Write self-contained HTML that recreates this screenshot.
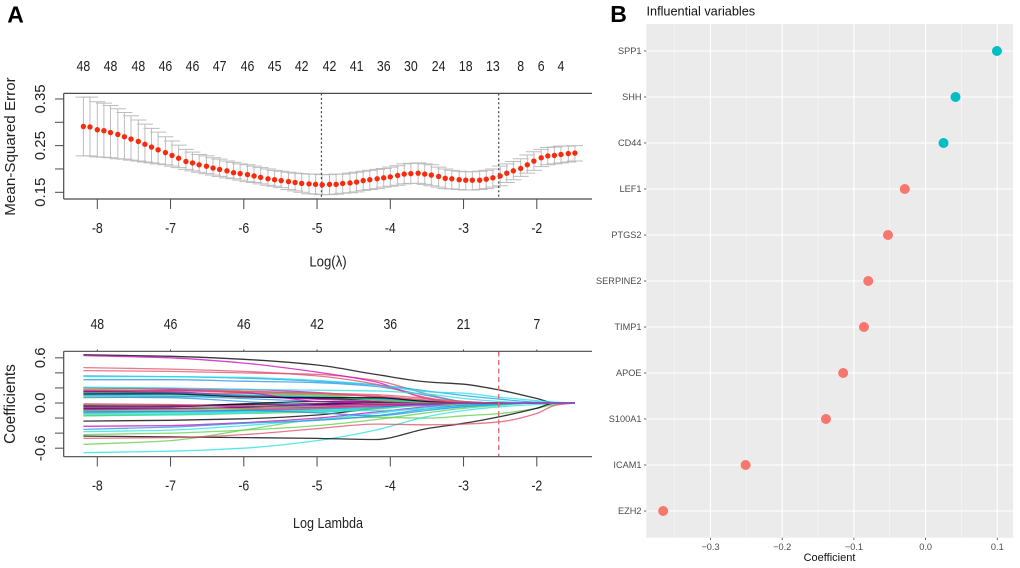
<!DOCTYPE html>
<html lang="en">
<head>
<meta charset="utf-8">
<title>LASSO regression and influential variables</title>
<style>
html,body{margin:0;padding:0;background:#fff;width:1020px;height:568px;overflow:hidden}
svg{display:block;font-family:"Liberation Sans",Arial,sans-serif;filter:blur(0.3px)}
</style>
</head>
<body>
<svg id="fig" xmlns="http://www.w3.org/2000/svg" width="1020" height="568" viewBox="0 0 1020 568"></svg>
<script>
/* Panel A top: cross-validation curve */
const mseLogLambda = [-8.19,-8.10,-8.00,-7.91,-7.82,-7.72,-7.63,-7.54,-7.44,-7.35,-7.26,-7.17,-7.07,-6.98,-6.89,-6.79,-6.70,-6.61,-6.51,-6.42,-6.33,-6.23,-6.14,-6.05,-5.95,-5.86,-5.77,-5.67,-5.58,-5.49,-5.39,-5.30,-5.21,-5.11,-5.02,-4.93,-4.83,-4.74,-4.65,-4.55,-4.46,-4.37,-4.28,-4.18,-4.09,-4.00,-3.90,-3.81,-3.72,-3.62,-3.53,-3.44,-3.34,-3.25,-3.16,-3.06,-2.97,-2.88,-2.78,-2.69,-2.60,-2.50,-2.41,-2.32,-2.22,-2.13,-2.04,-1.94,-1.85,-1.76,-1.67,-1.57,-1.48];
const mseMean = [.291,.290,.284,.282,.278,.274,.269,.264,.259,.253,.247,.241,.235,.229,.223,.216,.213,.209,.206,.202,.199,.196,.192,.190,.188,.185,.182,.179,.177,.175,.173,.171,.169,.168,.167,.166,.167,.167,.169,.170,.172,.175,.177,.179,.181,.183,.186,.189,.190,.191,.189,.187,.184,.180,.179,.177,.176,.176,.176,.178,.181,.185,.191,.196,.201,.209,.217,.224,.228,.229,.231,.233,.234];
const mseUpper = [.354,.354,.344,.341,.336,.329,.321,.314,.305,.296,.287,.279,.269,.260,.251,.242,.236,.231,.228,.224,.221,.217,.214,.211,.209,.206,.203,.200,.197,.195,.193,.191,.190,.189,.189,.188,.188,.189,.189,.191,.193,.195,.197,.199,.201,.204,.207,.211,.212,.213,.211,.209,.204,.200,.197,.195,.194,.194,.195,.197,.200,.206,.211,.216,.222,.230,.237,.242,.246,.247,.249,.249,.250];
const mseLower = [.228,.228,.226,.225,.224,.222,.221,.219,.217,.215,.213,.211,.209,.206,.203,.199,.196,.193,.190,.187,.184,.181,.179,.176,.173,.171,.168,.165,.163,.160,.156,.153,.150,.147,.146,.145,.145,.146,.148,.149,.151,.154,.156,.158,.161,.163,.165,.168,.169,.169,.167,.164,.161,.158,.157,.156,.155,.155,.156,.158,.161,.164,.171,.177,.184,.191,.197,.205,.209,.211,.213,.215,.217];
const mseTopLambda = [-8.19,-7.82,-7.44,-7.07,-6.70,-6.33,-5.95,-5.58,-5.21,-4.83,-4.46,-4.09,-3.72,-3.34,-2.97,-2.60,-2.22,-1.94,-1.67];
const mseTopLabels = ["48","48","48","46","46","47","46","45","42","42","41","36","30","24","18","13","8","6","4"];
const mseYTicks = [0.15,0.20,0.25,0.30,0.35];
const mseYLabels = ["0.15","","0.25","","0.35"];
const lambdaLines = [-4.94,-2.52];

/* Panel A bottom: coefficient paths */
const xTicks = [-8,-7,-6,-5,-4,-3,-2];
const coefTopLabels = ["48","46","46","42","36","21","7"];
const coefYTicks = [-0.6,-0.4,-0.2,0,0.2,0.4,0.6];
const coefYLabels = ["-0.6","","","0.0","","","0.6"];
const coefKnots = [-8.19,-7,-6,-5,-4.2,-3.5,-3,-2.5,-2,-1.75,-1.48];
const coefSelected = -2.52;
const coefColors = ["#000000","#DF536B","#61D04F","#2297E6","#28E2E5","#CD0BBC"];
const coefSeries = [
[.64,.62,.58,.505,.38,.28,.25,.17,.06,0,0],
[.43,.42,.40,.38,.30,.12,.02,0,0,0,0],
[-.55,-.50,-.36,-.22,-.19,-.20,-.17,-.14,-.07,-.02,0],
[.31,.31,.29,.27,.22,.10,.02,0,0,0,0],
[-.66,-.64,-.60,-.50,-.36,-.18,-.10,-.05,-.02,-.01,0],
[.63,.60,.53,.41,.28,.06,0,0,0,0,0],
[-.44,-.45,-.46,-.47,-.485,-.34,-.27,-.18,-.07,0,0],
[-.47,-.46,-.42,-.34,-.28,-.29,-.28,-.25,-.14,-.03,0],
[-.42,-.40,-.36,-.30,-.22,-.13,-.07,-.03,0,0,0],
[.36,.35,.33,.29,.24,.16,.10,.05,.01,0,0],
[.35,.35,.34,.30,.24,.15,.13,.075,.03,.01,0],
[-.31,-.30,-.26,-.20,-.12,-.05,-.01,0,0,0,0],
[.15,.14,.10,.06,.04,.01,0,0,0,0,0],
[.47,.45,.42,.36,.25,.07,0,0,0,0,0],
[.07,.08,.10,.08,.06,.02,0,0,0,0,0],
[.10,.09,.06,.02,-.02,-.01,0,0,0,0,0],
[-.38,-.36,-.30,-.22,-.14,-.06,-.03,-.01,0,0,0],
[.20,.19,.18,.14,.08,.02,0,0,0,0,0],
[-.03,-.03,-.02,-.01,0,0,0,0,0,0,0],
[.20,.19,.16,.13,.09,.03,0,0,0,0,0],
[.13,.12,.12,.09,.04,.01,0,0,0,0,0],
[-.35,-.32,-.27,-.23,-.17,-.08,-.03,-.01,0,0,0],
[-.17,-.15,-.11,-.08,-.04,0,0,0,0,0,0],
[-.07,-.07,-.05,-.02,0,0,0,0,0,0,0],
[-.08,-.08,-.06,-.02,-.01,0,0,0,0,0,0],
[.12,.13,.13,.11,.09,.04,.01,0,0,0,0],
[-.02,-.04,-.08,-.10,-.07,-.03,-.01,0,0,0,0],
[.08,.07,.02,-.03,-.05,-.03,0,0,0,0,0],
[.11,.10,.10,.08,.05,.01,0,0,0,0,0],
[.17,.15,.09,.05,.02,0,0,0,0,0,0],
[-.24,-.23,-.21,-.16,-.07,-.01,0,0,0,0,0],
[-.01,-.02,-.04,-.05,-.03,0,0,0,0,0,0],
[-.17,-.16,-.14,-.12,-.08,-.02,0,0,0,0,0],
[-.13,-.12,-.10,-.08,-.06,-.02,0,0,0,0,0],
[-.15,-.15,-.13,-.10,-.07,-.02,0,0,0,0,0],
[-.09,-.08,-.07,-.06,-.04,-.02,0,0,0,0,0],
[-.05,-.05,-.01,.02,.01,0,0,0,0,0,0],
[-.12,-.11,-.09,-.07,-.04,0,0,0,0,0,0],
[.18,.17,.15,.11,.05,.01,0,0,0,0,0],
[.14,.13,.10,.08,.06,.02,0,0,0,0,0],
[-.14,-.13,-.12,-.11,-.10,-.08,-.05,-.02,0,0,0],
[.16,.17,.14,.02,0,0,0,0,0,0,0],
[.12,.12,.08,.07,.07,.02,0,0,0,0,0],
[.17,.16,.15,.13,.11,.06,.02,0,0,0,0],
[-.10,-.09,-.07,-.04,-.01,0,0,0,0,0,0],
[-.11,-.11,-.10,-.13,-.17,-.10,-.05,-.02,0,0,0],
[.21,.20,.18,.17,.16,.12,.06,.02,0,0,0],
[-.04,-.04,-.04,-.03,-.02,-.01,0,0,0,0,0]
];

/* Panel B: influential variables */
const genes = ["SPP1","SHH","CD44","LEF1","PTGS2","SERPINE2","TIMP1","APOE","S100A1","ICAM1","EZH2"];
const geneCoefs = [0.0995,0.0417,0.025,-0.029,-0.0525,-0.08,-0.086,-0.115,-0.139,-0.251,-0.366];
const coefMajorTicks = [-0.3,-0.2,-0.1,0.0,0.1];
const coefMajorLabels = ["\u22120.3","\u22120.2","\u22120.1","0.0","0.1"];
const coefMinorTicks = [-0.35,-0.25,-0.15,-0.05,0.05];

/* Axis functions */
function xLambda(v){return 97.3+(v+8)*73.25;}
function yMse(v){return 192.3-(v-0.15)*466.7;}
function yCoef(v){return 403-v*75.3;}
function xB(v){return 925.6+v*717;}
function yB(i){return 51+i*46;}

const NS="http://www.w3.org/2000/svg";
const svg=document.getElementById("fig");
function add(tag,props,parent){
  const el=document.createElementNS(NS,tag);
  for(const k in props){el.setAttribute(k,props[k]);}
  (parent||svg).appendChild(el);
  return el;
}
function group(name){
  const g=add("g",{});
  
  
  return g;
}
function label(str,x,y,size,fill,anchor,rotate,parent,weight,sx){
  const p={x:0,y:0,"font-size":size,fill:fill,"text-anchor":anchor||"middle","dominant-baseline":"central"};
  p.transform="translate("+x+" "+y+")"+(rotate?" rotate(-90)":"")+" scale("+(sx||1)+" 1)";
  if(weight){p["font-weight"]=weight;}
  const t=add("text",p,parent);
  t.textContent=str;
  return t;
}
function hardLine(x1,y1,x2,y2,stroke,w,parent,dash){
  const p={x1:x1,y1:y1,x2:x2,y2:y2,stroke:stroke,"stroke-width":w};
  if(dash){p["stroke-dasharray"]=dash;}
  return add("line",p,parent);
}
function monotonePath(xs,ys){
  const n=xs.length,s=[],m=[];
  for(let i=0;i<n-1;i++){s.push((ys[i+1]-ys[i])/(xs[i+1]-xs[i]));}
  m.push(s[0]);
  for(let i=1;i<n-1;i++){m.push(s[i-1]*s[i]<=0?0:2*s[i-1]*s[i]/(s[i-1]+s[i]));}
  m.push(s[n-2]);
  let d="M"+xs[0].toFixed(1)+" "+ys[0].toFixed(1);
  for(let i=0;i<n-1;i++){
    const h=(xs[i+1]-xs[i])/3;
    d+="C"+(xs[i]+h).toFixed(1)+" "+(ys[i]+m[i]*h).toFixed(1)+" "+(xs[i+1]-h).toFixed(1)+" "+(ys[i+1]-m[i+1]*h).toFixed(1)+" "+xs[i+1].toFixed(1)+" "+ys[i+1].toFixed(1);
  }
  return d;
}

const AXIS="#4a4a4a", TXT="#222", SQ=0.85;

/* Panel letters */
const letterA=label("A",15.5,14.5,23,"#000","middle",false,svg,"bold");


const letterB=label("B",618.5,14,23,"#000","middle",false,svg,"bold");



/* ===== Top chart ===== */
const cvChart=group("cv-error-chart");
const cvBars=group("cv-error-bars");
cvChart.appendChild(cvBars);
mseLogLambda.forEach(function(l,i){
  const x=xLambda(l);
  const bar=hardLine(x,yMse(mseUpper[i]),x,yMse(mseLower[i]),"#bdbdbd",1,cvBars);
  
  
  const capU=hardLine(x-8,yMse(mseUpper[i]),x+8,yMse(mseUpper[i]),"#bdbdbd",1,cvBars);
  
  
  const capL=hardLine(x-8,yMse(mseLower[i]),x+8,yMse(mseLower[i]),"#bdbdbd",1,cvBars);
  
  
});
lambdaLines.forEach(function(l){
  const v=hardLine(xLambda(l),93.5,xLambda(l),199,"#444",1.2,cvChart,"2 2.4");
  
  
});
mseLogLambda.forEach(function(l,i){
  const c=add("circle",{cx:xLambda(l),cy:yMse(mseMean[i]),r:2.7,fill:"#fb2a0c"},cvChart);
  
  
});
const cvTop=hardLine(63.7,93.4,592,93.4,AXIS,1.2,cvChart);


const cvBottom=hardLine(63.7,199,592,199,AXIS,1.2,cvChart);


const cvLeft=hardLine(63.7,93.4,63.7,199,AXIS,1.2,cvChart);


mseYTicks.forEach(function(v,i){
  const t=hardLine(55,yMse(v),63.7,yMse(v),AXIS,1,cvChart);
  
  
  if(mseYLabels[i]){
    const lab=label(mseYLabels[i],40.5,yMse(v),15,TXT,"middle",true,cvChart);
    
    
  }
});
xTicks.forEach(function(v){
  const t=hardLine(xLambda(v),199,xLambda(v),209,AXIS,1,cvChart);
  
  
  const lab=label(String(v),xLambda(v),228,14.5,TXT,"middle",false,cvChart,null,SQ);
  
  
});
mseTopLabels.forEach(function(s,i){
  const lab=label(s,xLambda(mseTopLambda[i]),66,14.5,TXT,"middle",false,cvChart,null,SQ);
  
  
});
const cvY=label("Mean-Squared Error",10.5,146.5,15.2,TXT,"middle",true,cvChart);


const cvX=label("Log(\u03BB)",328,261,15,TXT,"middle",false,cvChart,null,0.88);



/* ===== Bottom chart ===== */
const pathChart=group("coefficient-path-chart");
const knotX=coefKnots.map(xLambda);
coefSeries.forEach(function(vals,i){
  const p=add("path",{d:monotonePath(knotX,vals.map(yCoef)),fill:"none",stroke:coefColors[i%6],"stroke-width":1.3,"stroke-opacity":0.78},pathChart);
  
  
});
const sel=hardLine(xLambda(coefSelected),351.5,xLambda(coefSelected),456.5,"#e07272",1.4,pathChart,"5 3.5");


const pTop=hardLine(63.7,351.3,592,351.3,AXIS,1.2,pathChart);


const pBottom=hardLine(63.7,456.7,592,456.7,AXIS,1.2,pathChart);


const pLeft=hardLine(63.7,351.3,63.7,456.7,AXIS,1.2,pathChart);


coefYTicks.forEach(function(v,i){
  const t=hardLine(55,yCoef(v),63.7,yCoef(v),AXIS,1,pathChart);
  
  
  if(coefYLabels[i]){
    const lab=label(coefYLabels[i],40.5,yCoef(v),15,TXT,"middle",true,pathChart);
    
    
  }
});
xTicks.forEach(function(v,i){
  const t=hardLine(xLambda(v),456.7,xLambda(v),466.5,AXIS,1,pathChart);
  
  
  const tt=hardLine(xLambda(v),349.5,xLambda(v),351.3,AXIS,1,pathChart);
  
  
  const lab=label(String(v),xLambda(v),485.7,14.5,TXT,"middle",false,pathChart,null,SQ);
  
  
  const top=label(coefTopLabels[i],xLambda(v),324,14.5,TXT,"middle",false,pathChart,null,SQ);
  
  
});
const pY=label("Coefficients",10.5,404,15.3,TXT,"middle",true,pathChart);


const pX=label("Log Lambda",328,522.7,15,TXT,"middle",false,pathChart,null,0.84);



/* ===== Panel B ===== */
const dotChart=group("influential-variables-chart");
const title=label("Influential variables",646.5,11.5,12.7,"#111","start",false,dotChart);


const panel=add("rect",{x:646.3,y:24,width:366.7,height:513.7,fill:"#ebebeb"},dotChart);


coefMinorTicks.forEach(function(v){
  const g=hardLine(xB(v),24,xB(v),537.7,"#f6f6f6",0.7,dotChart);
  
  
});
coefMajorTicks.forEach(function(v,i){
  const g=hardLine(xB(v),24,xB(v),537.7,"#ffffff",1.1,dotChart);
  
  
  const t=hardLine(xB(v),537.7,xB(v),540,"#444",0.8,dotChart);
  
  
  const lab=label(coefMajorLabels[i],xB(v),546.8,9.2,"#4d4d4d","middle",false,dotChart);
  
  
});
genes.forEach(function(name,i){
  const g=hardLine(646.3,yB(i),1013,yB(i),"#ffffff",1.1,dotChart);
  
  
  const t=hardLine(644,yB(i),646.3,yB(i),"#444",0.8,dotChart);
  
  
  const lab=label(name,641.5,yB(i),9.2,"#4d4d4d","end",false,dotChart);
  
  
});
geneCoefs.forEach(function(v,i){
  const c=add("circle",{cx:xB(v),cy:yB(i),r:5,fill:v>0?"#00BFC4":"#F8766D"},dotChart);
  
  
});
const bX=label("Coefficient",829.5,558,11,"#111","middle",false,dotChart);


</script>
</body>
</html>
